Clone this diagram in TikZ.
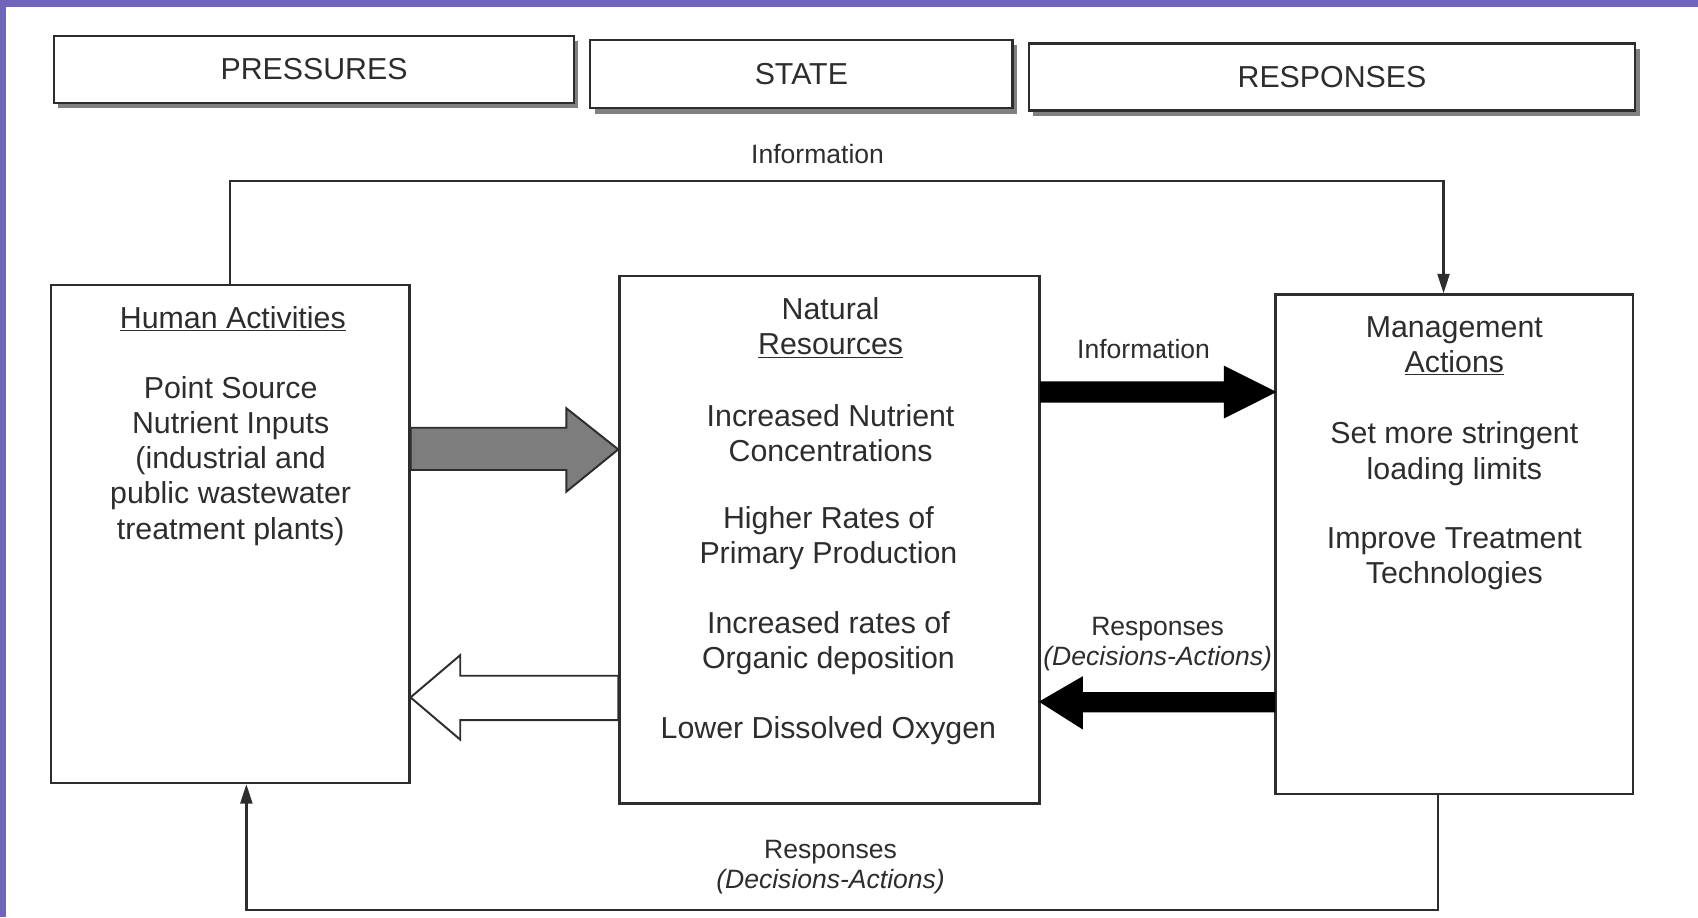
\documentclass[tikz,border=0pt]{standalone}
\usepackage{fontspec}
\setmainfont{Liberation Sans}
\usetikzlibrary{arrows.meta,calc,shadows}
\definecolor{frame}{RGB}{111,102,187}
\definecolor{ink}{RGB}{45,45,45}
\definecolor{arrgray}{RGB}{125,125,125}
\begin{document}
\begin{tikzpicture}[x=1pt,y=1pt,
  box/.style={draw=ink, line width=2.2pt, inner sep=0pt, fill=white},
  hdr/.style={box, font=\fontsize{28}{28}\selectfont, text=ink,
    drop shadow={shadow xshift=4pt, shadow yshift=-5pt, fill=black!50, opacity=1}},
  body/.style={align=center, font=\fontsize{28}{32.5}\selectfont, text=ink, inner sep=0pt},
  lab/.style={align=center, font=\fontsize{24.5}{28}\selectfont, text=ink, inner sep=0pt},
  conn/.style={draw=ink, line width=2.2pt},
  tiphead/.style={-{Triangle[length=18pt,width=11pt]}},
  blockarrow/.style={draw=ink, line width=1.8pt, line join=miter},
]
\useasboundingbox (0,0) rectangle (1568,-847);
\fill[white] (0,0) rectangle (1568,-847);
\fill[frame] (0,0) rectangle (1568,-6);
\fill[frame] (0,0) rectangle (6,-847);

% header boxes
\node[hdr, minimum width=480pt, minimum height=62pt] (pres) at (290,-64) {PRESSURES};
\node[hdr, minimum width=390pt, minimum height=63pt] (state) at (740,-68.5) {STATE};
\node[hdr, minimum width=560pt, minimum height=62pt] (resp) at (1230,-71) {RESPONSES};

% main boxes
\node[box, minimum width=331pt, minimum height=460pt] (human) at (212.5,-493) {};
\node[box, minimum width=388pt, minimum height=487pt] (nat) at (766,-498.5) {};
\node[box, minimum width=330pt, minimum height=461pt] (mgmt) at (1343,-502.5) {};

% texts in boxes
\node[body] (h1) at (215,-294) {\underline{Human Activities}};
\node[body] (h2) at (213,-425.5) {Point Source\\Nutrient Inputs\\(industrial and\\public wastewater\\treatment plants)};

\node[body] (n1) at (767,-302.5) {Natural\\\underline{Resources}};
\node[body] (n2) at (767,-400) {Increased Nutrient\\Concentrations};
\node[body] (n3) at (765,-497) {Higher Rates of\\Primary Production};
\node[body] (n4) at (765,-594) {Increased rates of\\Organic deposition};
\node[body] (n5) at (765,-675) {Lower Dissolved Oxygen};

\node[body] (m1) at (1343,-319.5) {Management\\\underline{Actions}};
\node[body] (m2) at (1343,-419) {Set more stringent\\loading limits};
\node[body] (m3) at (1343,-516) {Improve Treatment\\Technologies};

% block arrows
\filldraw[blockarrow, fill=arrgray]
  (human.east |- 0,-395) -- (523,-395) -- (523,-377) -- (nat.west |- 0,-415)
  -- (523,-454) -- (523,-434) -- (human.east |- 0,-434) -- cycle;
\filldraw[blockarrow, fill=white]
  (nat.west |- 0,-624) -- (425,-624) -- (425,-605) -- (human.east |- 0,-644)
  -- (425,-683) -- (425,-665) -- (nat.west |- 0,-665) -- cycle;
\filldraw[blockarrow, fill=black, draw=black]
  (nat.east |- 0,-353) -- (1131,-353) -- (1131,-339) -- (mgmt.west |- 0,-362)
  -- (1131,-385) -- (1131,-371) -- (nat.east |- 0,-371) -- cycle;
\filldraw[blockarrow, fill=black, draw=black]
  (mgmt.west |- 0,-640) -- (999,-640) -- (999,-626) -- (nat.east |- 0,-648)
  -- (999,-672) -- (999,-657) -- (mgmt.west |- 0,-657) -- cycle;

% connectors
\draw[conn, tiphead] (human.north) -- ++(0,95) -| ([xshift=-10pt]mgmt.north);
\draw[conn, tiphead] ([xshift=-15pt]mgmt.south) -- ++(0,-106) -| ([xshift=15pt]human.south);

% labels
\node[lab] (info1) at (755,-142) {Information};
\node[lab] (info2) at (1056,-322) {Information};
\node[lab] (resp1) at (1069,-595) {Responses\\\textit{(Decisions-Actions)}};
\node[lab] (resp2) at (767,-801) {Responses\\\textit{(Decisions-Actions)}};
\end{tikzpicture}
\end{document}
